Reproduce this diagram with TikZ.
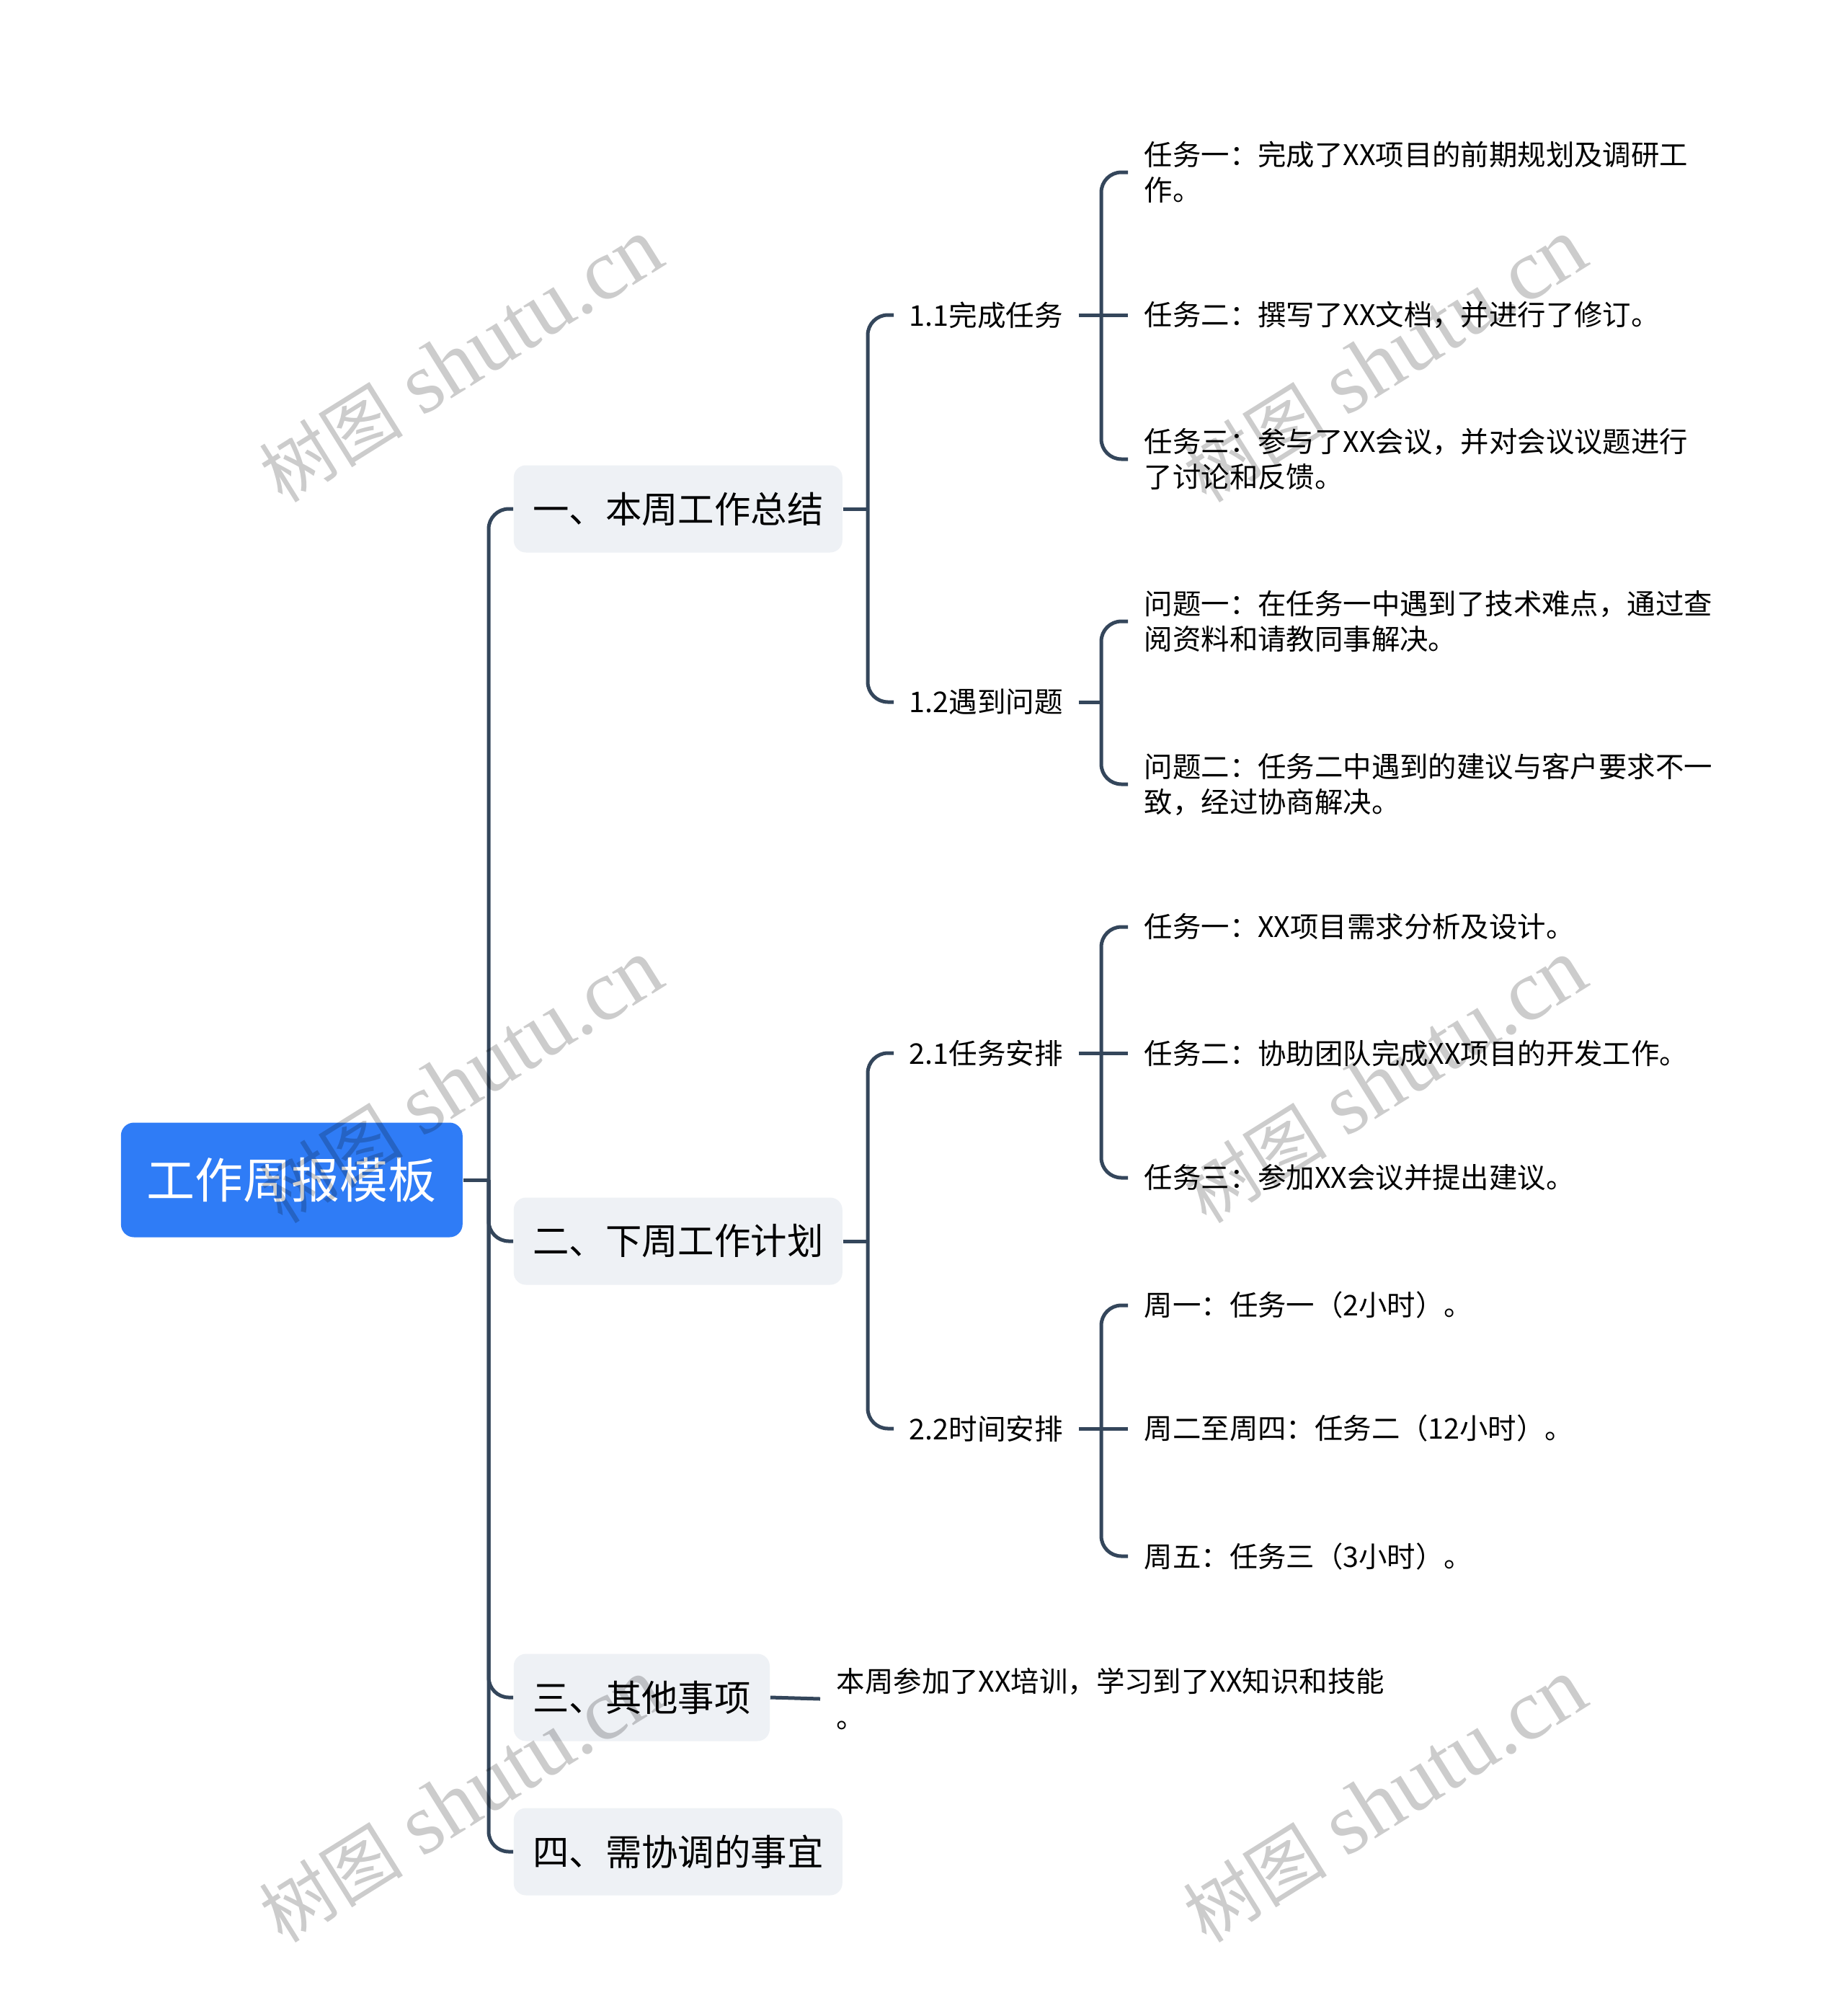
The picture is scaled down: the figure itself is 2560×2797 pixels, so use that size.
\documentclass[tikz,border=0pt]{standalone}
\usepackage{fontspec}
\setmainfont{Noto Sans CJK SC}
\newfontfamily\wmlatin{Liberation Serif}
\definecolor{rootblue}{HTML}{2F7CF6}
\definecolor{lvlgray}{HTML}{EEF1F5}
\definecolor{linec}{HTML}{34465B}
\begin{document}
\begin{tikzpicture}[x=0.25pt,y=-0.25pt,
  rootbox/.style={fill=rootblue, text=white, rounded corners=4.5pt, inner xsep=9pt, inner ysep=0pt, minimum height=39.75pt, font=\fontsize{16.75pt}{20pt}\selectfont, anchor=west},
  topicbox/.style={fill=lvlgray, text=black, rounded corners=4.25pt, inner xsep=6.6pt, inner ysep=0pt, minimum height=30.25pt, font=\fontsize{12.6pt}{15pt}\selectfont, anchor=west},
  subtopic/.style={inner xsep=5.25pt, inner ysep=0pt, anchor=west, font=\fontsize{9.9pt}{12.3pt}\selectfont},
  leaf/.style={inner xsep=5.5pt, inner ysep=0pt, anchor=west, align=left, font=\fontsize{9.85pt}{12.3pt}\selectfont},
  conn/.style={draw=linec, line width=1.25pt},
  elbow/.style={conn, rounded corners=7pt},
  wm/.style={text=black, opacity=0.2, rotate=32, font=\fontsize{30pt}{36pt}\selectfont}
]
\fill[white] (0,0) rectangle (2560,2797);
\useasboundingbox (0,0) rectangle (2560,2797);

% root and main topics
\node[rootbox] (root) at (167,1637) {工作周报模板};
\node[topicbox] (t1) at (712,706) {一、本周工作总结};
\node[topicbox] (t2) at (712,1722) {二、下周工作计划};
\node[topicbox] (t3) at (712,2355) {三、其他事项};
\node[topicbox] (t4) at (712,2569) {四、需协调的事宜};

% subtopics
\node[subtopic] (s11) at (1240,437) {1.1完成任务};
\node[subtopic] (s12) at (1240,974) {1.2遇到问题};
\node[subtopic] (s21) at (1240,1461) {2.1任务安排};
\node[subtopic] (s22) at (1240,1982) {2.2时间安排};

% leaves
\node[leaf] (l11a) at (1565,239) {任务一：完成了XX项目的前期规划及调研工\\作。};
\node[leaf] (l11b) at (1565,437) {任务二：撰写了XX文档，并进行了修订。};
\node[leaf] (l11c) at (1565,637) {任务三：参与了XX会议，并对会议议题进行\\了讨论和反馈。};
\node[leaf] (l12a) at (1565,862) {问题一：在任务一中遇到了技术难点，通过查\\阅资料和请教同事解决。};
\node[leaf] (l12b) at (1565,1088) {问题二：任务二中遇到的建议与客户要求不一\\致，经过协商解决。};
\node[leaf] (l21a) at (1565,1286) {任务一：XX项目需求分析及设计。};
\node[leaf] (l21b) at (1565,1461) {任务二：协助团队完成XX项目的开发工作。};
\node[leaf] (l21c) at (1565,1634) {任务三：参加XX会议并提出建议。};
\node[leaf] (l22a) at (1565,1811) {周一：任务一（2小时）。};
\node[leaf] (l22b) at (1565,1982) {周二至周四：任务二（12小时）。};
\node[leaf] (l22c) at (1565,2159) {周五：任务三（3小时）。};
\node[leaf] (l3) at (1138,2357) {本周参加了XX培训，学习到了XX知识和技能\\。};

% junctions
\coordinate (jr) at (678,1637);
\coordinate (j1) at (1204,706);
\coordinate (j2) at (1204,1722);
\coordinate (j11) at (1528,437);
\coordinate (j12) at (1528,974);
\coordinate (j21) at (1528,1461);
\coordinate (j22) at (1528,1982);

% root connectors
\draw[conn] (root.east) -- (jr);
\draw[elbow] (jr) |- (t1.west);
\draw[elbow] (jr) |- (t2.west);
\draw[elbow] (jr) |- (t3.west);
\draw[elbow] (jr) |- (t4.west);

% topic 1
\draw[conn] (t1.east) -- (j1);
\draw[elbow] (j1) |- (s11.west);
\draw[elbow] (j1) |- (s12.west);
\draw[conn] (s11.east) -- (j11);
\draw[elbow] (j11) |- (l11a.west);
\draw[conn] (j11) -- (l11b.west);
\draw[elbow] (j11) |- (l11c.west);
\draw[conn] (s12.east) -- (j12);
\draw[elbow] (j12) |- (l12a.west);
\draw[elbow] (j12) |- (l12b.west);

% topic 2
\draw[conn] (t2.east) -- (j2);
\draw[elbow] (j2) |- (s21.west);
\draw[elbow] (j2) |- (s22.west);
\draw[conn] (s21.east) -- (j21);
\draw[elbow] (j21) |- (l21a.west);
\draw[conn] (j21) -- (l21b.west);
\draw[elbow] (j21) |- (l21c.west);
\draw[conn] (s22.east) -- (j22);
\draw[elbow] (j22) |- (l22a.west);
\draw[conn] (j22) -- (l22b.west);
\draw[elbow] (j22) |- (l22c.west);

% topic 3
\draw[conn] (t3.east) -- (l3.west);

% watermarks
\node[wm] (wm1) at (640,500) {{\fontsize{25pt}{30pt}\selectfont 树图} {\wmlatin shutu.cn}};
\node[wm] (wm2) at (640,1500) {{\fontsize{25pt}{30pt}\selectfont 树图} {\wmlatin shutu.cn}};
\node[wm] (wm3) at (640,2498) {{\fontsize{25pt}{30pt}\selectfont 树图} {\wmlatin shutu.cn}};
\node[wm] (wm4) at (1922,500) {{\fontsize{25pt}{30pt}\selectfont 树图} {\wmlatin shutu.cn}};
\node[wm] (wm5) at (1922,1500) {{\fontsize{25pt}{30pt}\selectfont 树图} {\wmlatin shutu.cn}};
\node[wm] (wm6) at (1922,2498) {{\fontsize{25pt}{30pt}\selectfont 树图} {\wmlatin shutu.cn}};
\end{tikzpicture}
\end{document}
